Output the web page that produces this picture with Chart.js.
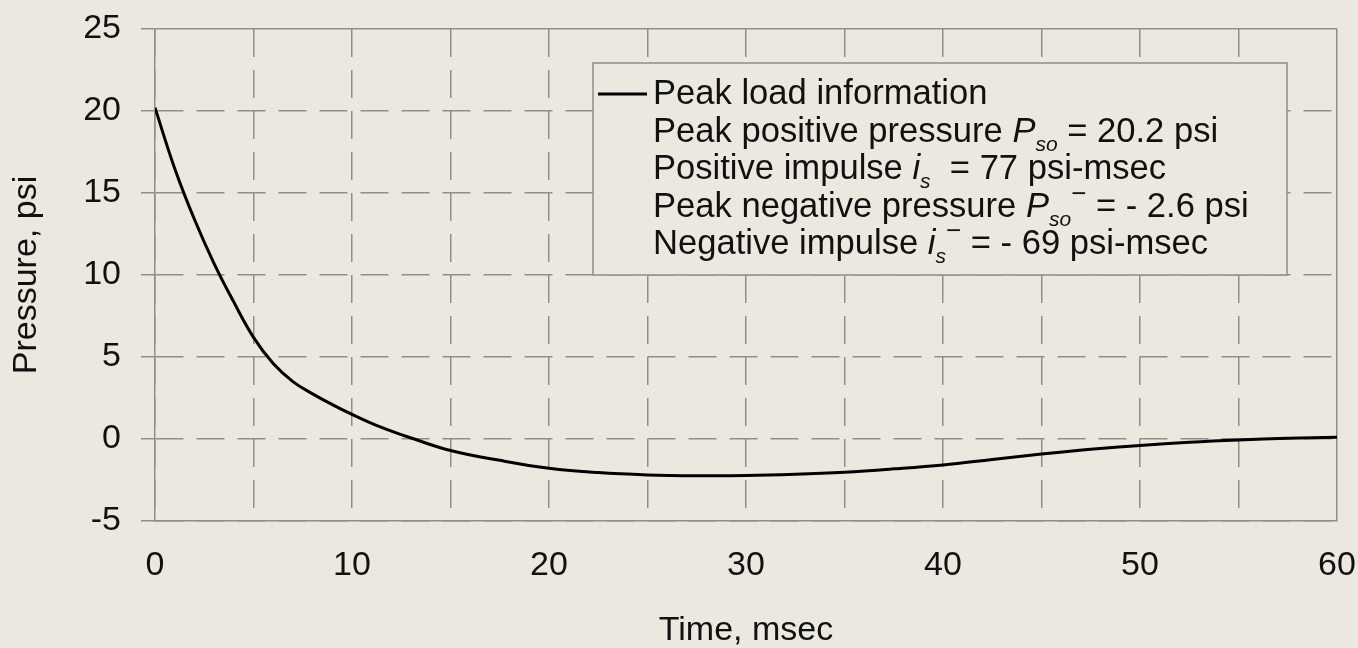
<!DOCTYPE html>
<html>
<head>
<meta charset="utf-8">
<script src="https://cdn.jsdelivr.net/npm/chart.js@4/dist/chart.umd.min.js"></script>
<style>
  html, body { margin: 0; padding: 0; background: #ebe9df; }
  #wrap { width: 1358px; height: 648px; }
</style>
</head>
<body>
<div id="wrap"><canvas id="pressureChart" width="1358" height="648"></canvas></div>
<script>
// time (msec) and side-on pressure (psi)
const times = [0, 1, 2, 3, 4, 5, 6, 7, 8, 9, 10, 11, 12, 13, 15, 17.5, 20, 22.5, 25, 27.5, 30,
  32.5, 35, 37.5, 40, 42.5, 45, 47.5, 50, 52.5, 55, 57.5, 60];
const pressure = [20.2, 16.5, 13.4, 10.7, 8.35, 6.2, 4.6, 3.5, 2.75, 2.1, 1.5, 0.95, 0.48, 0.06, -0.7, -1.3,
  -1.78, -2.05, -2.19, -2.24, -2.23, -2.15, -2.02, -1.82, -1.58, -1.25, -0.92, -0.63, -0.39, -0.2, -0.06, 0.04, 0.1];
const xLabels = [0, 10, 20, 30, 40, 50, 60];
const yLabels = [-5, 0, 5, 10, 15, 20, 25];
const seriesName = 'Peak load information';

// legend text runs: n = normal, i = italic, sub / sup = small
const legendLines = [
  [[seriesName, 'n']],
  [['Peak positive pressure ', 'n'], ['P', 'i'], ['so', 'sub'], [' = 20.2 psi', 'n']],
  [['Positive impulse ', 'n'], ['i', 'i'], ['s', 'sub'], ['  = 77 psi-msec', 'n']],
  [['Peak negative pressure ', 'n'], ['P', 'i'], ['so', 'sub'], ['\u2212', 'sup'], [' = - 2.6 psi', 'n']],
  [['Negative impulse ', 'n'], ['i', 'i'], ['s', 'sub'], ['\u2212', 'sup'], [' = - 69 psi-msec', 'n']]
];

const FONT = "'Liberation Sans', Arial, sans-serif";
const gridGray = '#8e8e8a';
const bg = '#ebe9df';

const boxLegend = {
  id: 'boxLegend',
  afterDraw(chart) {
    const ctx = chart.ctx;
    const ds = chart.data.datasets[0];
    const box = { x: 593, y: 63, w: 694, h: 212 };
    ctx.save();
    ctx.fillStyle = bg;
    ctx.fillRect(box.x, box.y, box.w, box.h);
    ctx.strokeStyle = gridGray;
    ctx.lineWidth = 1.5;
    ctx.strokeRect(box.x, box.y, box.w, box.h);

    ctx.strokeStyle = ds.borderColor;
    ctx.lineWidth = ds.borderWidth;
    ctx.beginPath();
    ctx.moveTo(598, 94);
    ctx.lineTo(647, 94);
    ctx.stroke();

    ctx.fillStyle = '#111';
    ctx.textBaseline = 'alphabetic';
    ctx.textAlign = 'left';
    legendLines.forEach((runs, li) => {
      const base = 104 + li * 37.5;
      let x = 653;
      runs.forEach(([txt, kind]) => {
        let dy = 0;
        if (kind === 'n') ctx.font = '34.6px ' + FONT;
        else if (kind === 'i') ctx.font = 'italic 34.6px ' + FONT;
        else if (kind === 'sub') { ctx.font = 'italic 21px ' + FONT; dy = 9; }
        else { ctx.font = '26px ' + FONT; dy = -15; }
        ctx.fillText(txt, x, base + dy);
        x += ctx.measureText(txt).width;
      });
    });
    ctx.restore();
  }
};

const gridDash = [28, 13];

const ctx = document.getElementById('pressureChart').getContext('2d');
const chart = new Chart(ctx, {
  type: 'line',
  data: {
    datasets: [{
      label: seriesName,
      data: times.map((t, i) => ({ x: t, y: pressure[i] })),
      borderColor: '#000',
      borderWidth: 3,
      pointRadius: 0,
      fill: false,
      tension: 0.4
    }]
  },
  options: {
    responsive: false,
    devicePixelRatio: 1,
    animation: false,
    layout: { padding: { left: 0, right: 21, top: 29, bottom: 0 } },
    plugins: { legend: { display: false }, tooltip: { enabled: false } },
    scales: {
      x: {
        type: 'linear',
        min: 0, max: 60,
        afterFit: s => { s.height = 127; s.paddingLeft = 0; s.paddingRight = 0; },
        grid: {
          color: gridGray,
          lineWidth: 1.5,
          drawTicks: false
        },
        border: {
          display: true, color: gridGray, width: 1.5,
          dash: c => (c.tick && c.tick.value === 60 ? [] : gridDash)
        },
        ticks: {
          stepSize: 5,
          autoSkip: false,
          maxRotation: 0,
          padding: 24,
          color: '#111',
          font: { family: FONT, size: 34 },
          callback: v => (xLabels.includes(v) ? String(v) : '')
        },
        title: {
          display: true,
          text: 'Time, msec',
          color: '#111',
          font: { family: FONT, size: 34, lineHeight: 1 },
          padding: { top: 0, bottom: 0 }
        }
      },
      y: {
        min: -5, max: 25,
        afterFit: s => { s.width = 155; s.paddingTop = 0; s.paddingBottom = 0; },
        grid: {
          color: gridGray,
          lineWidth: 1.5,
          tickLength: 14,
          tickBorderDash: []
        },
        border: {
          display: true, color: gridGray, width: 1.5,
          dash: c => (c.tick && c.tick.value === 25 ? [] : gridDash)
        },
        ticks: {
          stepSize: 5,
          padding: 20,
          color: '#111',
          font: { family: FONT, size: 34 },
          callback: v => (yLabels.includes(v) ? String(v) : '')
        },
        title: {
          display: true,
          text: 'Pressure, psi',
          color: '#111',
          font: { family: FONT, size: 34, lineHeight: 1 },
          padding: { top: 10, bottom: 0 }
        }
      }
    }
  },
  plugins: [boxLegend]
});
</script>
</body>
</html>
